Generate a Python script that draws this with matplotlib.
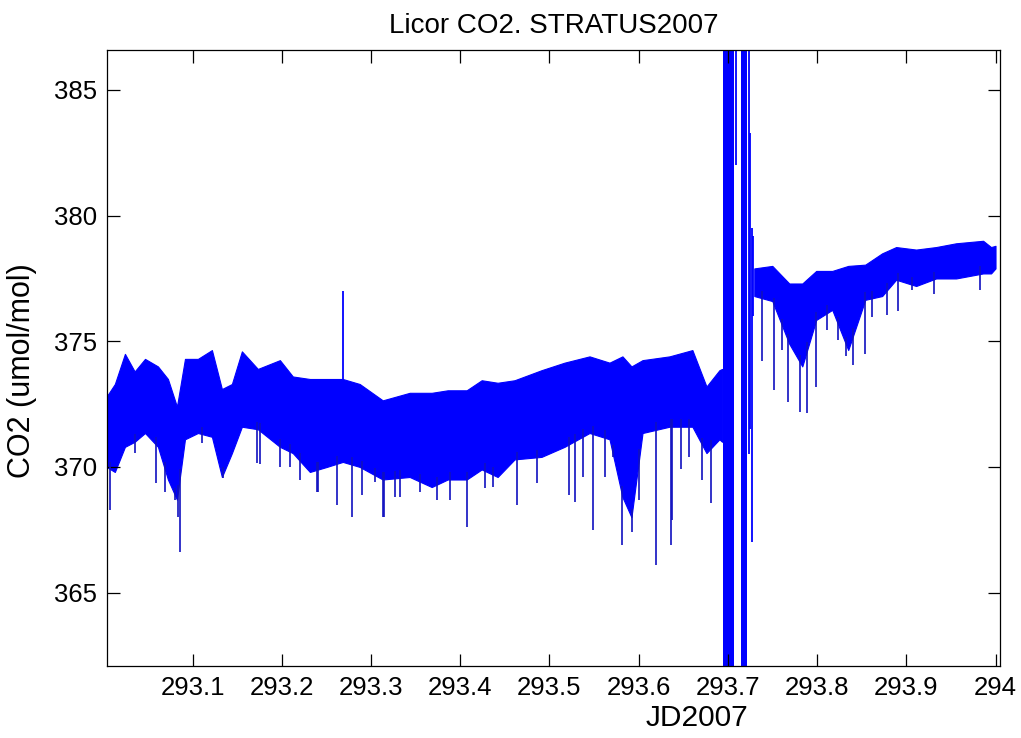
import numpy as np
import matplotlib
matplotlib.use('Agg')
import matplotlib.pyplot as plt

plt.rcParams['font.family'] = ['Liberation Sans', 'DejaVu Sans']

# Envelope of the dense CO2 trace: time, upper, lower
band_x = [293.0035, 293.0128, 293.0241, 293.0350, 293.0466, 293.0611, 293.0723,
          293.0824, 293.0914, 293.1059, 293.1216, 293.1328, 293.1440, 293.1552,
          293.1731, 293.1978, 293.2123, 293.2314, 293.2504, 293.2683, 293.2873,
          293.3131, 293.3433, 293.3680, 293.3859, 293.4072, 293.4240, 293.4419,
          293.4609, 293.4911, 293.5169, 293.5449, 293.5673, 293.5818, 293.5919,
          293.6043, 293.6345, 293.6602, 293.6760, 293.6905, 293.6935]
band_hi = [372.8, 373.3, 374.5, 373.8, 374.3, 374.0, 373.5,
           372.4, 374.3, 374.3, 374.65, 373.1, 373.3, 374.6,
           373.9, 374.25, 373.6, 373.5, 373.5, 373.5, 373.3,
           372.65, 372.95, 372.95, 373.05, 373.05, 373.45, 373.35,
           373.45, 373.85, 374.15, 374.4, 374.15, 374.4, 374.0,
           374.25, 374.4, 374.65, 373.2, 373.85, 373.9]
band_lo = [370.0, 369.8, 370.8, 371.0, 371.35, 370.8, 369.5,
           368.7, 371.1, 371.35, 371.2, 369.6, 370.55, 371.6,
           371.5, 370.8, 370.55, 369.8, 370.0, 370.2, 370.0,
           369.5, 369.6, 369.2, 369.5, 369.5, 369.9, 369.6,
           370.3, 370.4, 370.8, 371.35, 371.1, 368.8, 368.0,
           371.35, 371.6, 371.6, 370.55, 371.1, 371.0]

band2_x = [293.7296, 293.7498, 293.7688, 293.7834, 293.7990, 293.8170, 293.8349,
           293.8540, 293.8729, 293.8886, 293.9110, 293.9334, 293.9558, 293.9861,
           293.9950, 294.0000]
band2_hi = [377.9, 378.0, 377.3, 377.3, 377.8, 377.8, 378.0,
            378.05, 378.5, 378.75, 378.65, 378.75, 378.9, 379.0,
            378.75, 378.8]
band2_lo = [376.8, 376.6, 374.9, 374.0, 375.85, 376.25, 374.65,
            376.65, 376.8, 377.45, 377.2, 377.5, 377.5, 377.7,
            377.7, 377.9]

# saturated section around 293.7 (values run off the axis)
block_x0 = [293.6940, 293.7151]
block_x1 = [293.7073, 293.7218]

# isolated excursions: time, bottom, top
seg_x = [293.7095, 293.7235, 293.7250, 293.7265, 293.7280, 293.2683]
seg_lo = [382.0, 370.5, 371.5, 367.0, 376.0, 373.0]
seg_hi = [387.5, 387.5, 383.3, 379.5, 379.2, 377.0]

# downward spikes: time, minimum value
spike_x = [293.0074, 293.0354, 293.0589, 293.0690, 293.0802, 293.0835, 293.0858,
           293.1104, 293.1339, 293.1720, 293.1754, 293.1978, 293.2090, 293.2202,
           293.2392, 293.2403, 293.2616, 293.2784, 293.2896, 293.3041, 293.3131,
           293.3142, 293.3265, 293.3321, 293.3545, 293.3735, 293.3881, 293.4072,
           293.4273, 293.4363, 293.4632, 293.4856, 293.5214, 293.5281, 293.5371,
           293.5483, 293.5617, 293.5707, 293.5808, 293.5920, 293.6009, 293.6199,
           293.6367, 293.6379, 293.6479, 293.6569, 293.6714, 293.6815,
           293.7386, 293.7520, 293.7610, 293.7677, 293.7811, 293.7890, 293.7990,
           293.8114, 293.8237, 293.8326, 293.8405, 293.8540, 293.8618, 293.8786,
           293.8909, 293.9066, 293.9312, 293.9827]
spike_y = [368.3, 370.55, 369.35, 369.0, 368.7, 368.0, 366.6,
           370.95, 369.55, 370.15, 370.1, 370.0, 370.0, 369.5,
           369.0, 369.0, 368.5, 368.0, 368.9, 369.4, 368.0,
           368.0, 368.8, 368.8, 369.0, 368.7, 368.7, 367.6,
           369.15, 369.2, 368.5, 369.35, 368.9, 368.6, 369.6,
           367.5, 369.6, 370.4, 366.9, 367.4, 368.7, 366.1,
           366.9, 367.9, 369.9, 370.4, 369.5, 368.55,
           374.2, 373.05, 374.65, 372.6, 372.2, 372.15, 373.2,
           375.45, 375.05, 374.4, 374.05, 374.5, 375.95, 376.05,
           376.2, 377.05, 376.9, 377.05]

blue = '#0000ff'

fig = plt.figure(figsize=(10.21, 7.38), dpi=100)
ax = fig.add_axes([0.1048, 0.0976, 0.8746, 0.8346])

ax.fill_between(band_x, band_lo, band_hi, color=blue, lw=0.8, edgecolor=blue)
ax.fill_between(band2_x, band2_lo, band2_hi, color=blue, lw=0.8, edgecolor=blue)
for x0, x1 in zip(block_x0, block_x1):
    ax.fill_between([x0, x1], [355, 355], [395, 395], color=blue, lw=0)
ax.vlines(seg_x, seg_lo, seg_hi, color=blue, lw=1.3)

all_x = band_x + band2_x
all_lo = band_lo + band2_lo
base = np.interp(spike_x, all_x, all_lo) + 0.3
ax.vlines(spike_x, spike_y, base, color='#1010c0', lw=1.2)

ax.set_xlim(293.004, 294.005)
ax.set_ylim(362.08, 386.59)
ax.set_xticks([293.1, 293.2, 293.3, 293.4, 293.5, 293.6, 293.7, 293.8, 293.9, 294.0])
ax.set_xticklabels(['293.1', '293.2', '293.3', '293.4', '293.5', '293.6', '293.7',
                    '293.8', '293.9', '294'])
ax.set_yticks([365, 370, 375, 380, 385])
ax.tick_params(direction='in', length=9, width=0.9, top=True, right=True,
               labelsize=18.5, pad=7)
for s in ax.spines.values():
    s.set_linewidth(0.9)

ax.set_title('Licor CO2. STRATUS2007', fontsize=20, pad=12)
ax.set_xlabel('JD2007', fontsize=21.5)
ax.xaxis.set_label_coords(0.661, -0.062)
ax.set_ylabel('CO2 (umol/mol)', fontsize=22)
ax.yaxis.set_label_coords(-0.078, 0.48)

fig.savefig('out.png', dpi=100)
